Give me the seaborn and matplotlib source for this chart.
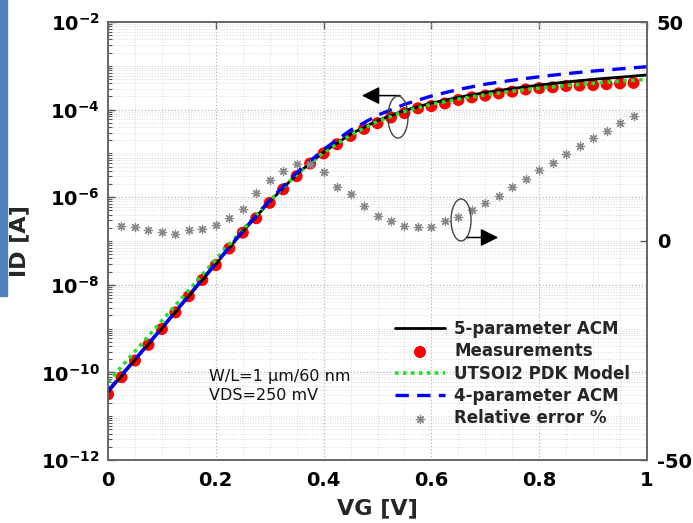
import numpy as np
import pandas as pd
import matplotlib
matplotlib.use("Agg")
import matplotlib.pyplot as plt
import seaborn as sns
from matplotlib.patches import Ellipse, Rectangle
from matplotlib.ticker import LogLocator, FixedLocator, NullFormatter, MultipleLocator

# ---------------- data ----------------
vg_meas = [round(0.025 * i, 3) for i in range(40)]          # 0 .. 0.975
log_id_meas = [-10.50, -10.11, -9.73, -9.37, -9.01, -8.63, -8.26, -7.89, -7.55, -7.17,
               -6.81, -6.48, -6.13, -5.82, -5.52, -5.23, -5.00, -4.79, -4.60, -4.44,
               -4.31, -4.18, -4.08, -3.97, -3.92, -3.86, -3.78, -3.72, -3.68, -3.63,
               -3.59, -3.54, -3.51, -3.49, -3.46, -3.45, -3.44, -3.42, -3.40, -3.39]

vg_model = [round(0.05 * i, 2) for i in range(21)]           # 0 .. 1
log_id_acm5 = [-10.45, -9.72, -9.00, -8.26, -7.53, -6.79, -6.10, -5.48, -4.97, -4.56,
               -4.25, -4.02, -3.85, -3.72, -3.61, -3.52, -3.44, -3.37, -3.31, -3.26, -3.21]
log_id_utsoi = [-10.22, -9.52, -8.82, -8.12, -7.42, -6.74, -6.08, -5.48, -4.98, -4.58,
                -4.27, -4.04, -3.88, -3.76, -3.66, -3.58, -3.51, -3.45, -3.40, -3.35, -3.31]
log_id_acm4 = [-10.42, -9.70, -8.98, -8.24, -7.51, -6.77, -6.07, -5.44, -4.91, -4.47,
               -4.13, -3.88, -3.69, -3.54, -3.42, -3.33, -3.25, -3.18, -3.12, -3.07, -3.02]

vg_err = [round(0.025 * i, 3) for i in range(1, 40)]         # 0.025 .. 0.975
rel_err = [3.5, 3.1, 2.5, 2.1, 1.6, 2.5, 2.7, 3.7, 5.2, 7.3,
           11.0, 13.9, 16.0, 17.5, 17.6, 15.8, 12.3, 10.7, 8.1, 5.7,
           4.6, 3.4, 3.2, 3.2, 4.6, 5.5, 7.1, 8.7, 10.3, 12.4,
           14.2, 16.1, 17.9, 19.9, 21.7, 23.5, 25.2, 26.9, 28.5]

x_ticks = [0, 0.2, 0.4, 0.6, 0.8, 1]
x_tick_labels = ["0", "0.2", "0.4", "0.6", "0.8", "1"]
y_ticks_exp = [-12, -10, -8, -6, -4, -2]
y2_ticks = [-50, 0, 50]

labels = ["5-parameter ACM", "Measurements", "UTSOI2 PDK Model",
          "4-parameter ACM", "Relative error %"]

# ---------------- frames ----------------
df_meas = pd.DataFrame({"VG": vg_meas, "ID": 10.0 ** np.array(log_id_meas)})
df_model = pd.DataFrame({"VG": vg_model,
                         "acm5": 10.0 ** np.array(log_id_acm5),
                         "utsoi": 10.0 ** np.array(log_id_utsoi),
                         "acm4": 10.0 ** np.array(log_id_acm4)})
df_err = pd.DataFrame({"VG": vg_err, "err": rel_err})

# ---------------- style ----------------
sns.set_theme(style="white")
plt.rcParams["font.family"] = ["DejaVu Sans"]
plt.rcParams["mathtext.default"] = "bf"

fig = plt.figure(figsize=(6.93, 5.23), dpi=100)
L, R, B, T = 108 / 693, 647 / 693, (523 - 460) / 523, (523 - 22) / 523
ax = fig.add_axes([L, B, R - L, T - B])
ax2 = ax.twinx()

sns.scatterplot(data=df_meas, x="VG", y="ID", ax=ax, color="#ff0000", s=75,
                edgecolor="none", linewidth=0, zorder=2, label=labels[1])
sns.lineplot(data=df_model, x="VG", y="acm5", ax=ax, color="black", lw=2.0,
             zorder=3, label=labels[0])
sns.lineplot(data=df_model, x="VG", y="utsoi", ax=ax, color="#22e022", lw=2.6,
             linestyle=(0, (1, 1.2)), zorder=4, label=labels[2])
sns.lineplot(data=df_model, x="VG", y="acm4", ax=ax, color="#0000ff", lw=2.4,
             linestyle=(0, (4, 2.5)), zorder=5, label=labels[3])
sns.scatterplot(data=df_err, x="VG", y="err", ax=ax2, color="#8a8a8a",
                marker=(8, 2, 0), s=36, linewidth=0.9, zorder=3, label=labels[4])

ax.set_yscale("log")
ax.set_xlim(0, 1)
ax.set_ylim(1e-12, 1e-2)
ax2.set_ylim(-50, 50)

# ticks
ax.xaxis.set_major_locator(FixedLocator(x_ticks))
ax.set_xticklabels(x_tick_labels)
ax.xaxis.set_minor_locator(MultipleLocator(0.05))
ax.yaxis.set_major_locator(FixedLocator([10.0 ** e for e in y_ticks_exp]))
ax.set_yticklabels([r"$10^{%d}$" % e for e in y_ticks_exp])
ax.yaxis.set_minor_locator(LogLocator(base=10, subs=np.arange(1, 10), numticks=30))
ax.yaxis.set_minor_formatter(NullFormatter())
ax2.set_yticks(y2_ticks)
ax2.set_yticklabels([str(v) for v in y2_ticks])

ax.tick_params(axis="both", which="major", direction="in", length=5, width=1,
               colors="#555555", labelcolor="black", labelsize=14, top=True, right=False)
ax.tick_params(axis="x", which="major", pad=8)
ax.tick_params(axis="y", which="major", pad=6)
ax.tick_params(axis="y", which="minor", direction="in", length=3, width=0.8,
               colors="#555555", right=False)
ax.tick_params(axis="x", which="minor", length=0)
ax2.tick_params(axis="y", which="major", direction="in", length=5, width=1,
                colors="#555555", labelcolor="black", labelsize=14, pad=7)
for a in (ax, ax2):
    for lab in a.get_xticklabels() + a.get_yticklabels():
        lab.set_fontweight("bold")

# grid
ax.grid(True, which="major", axis="both", linestyle=":", color="#b8b8b8", lw=0.9)
ax.grid(True, which="minor", axis="both", linestyle=":", color="#dadada", lw=0.7)
ax.set_axisbelow(True)

for a in (ax, ax2):
    for s in a.spines.values():
        s.set_color("#666666")
        s.set_linewidth(1.2)

ax.set_xlabel("VG [V]", fontsize=16, fontweight="bold", labelpad=6)
ax.set_ylabel("ID [A]", fontsize=16, fontweight="bold")
ax2.set_ylabel("")
ax.yaxis.set_label_coords((29 - 108) / 539, 0.5)

# legend
h1, l1 = ax.get_legend_handles_labels()
h2, l2 = ax2.get_legend_handles_labels()
hmap = dict(zip(l1 + l2, h1 + h2))
if ax.get_legend() is not None:
    ax.get_legend().remove()
if ax2.get_legend() is not None:
    ax2.get_legend().remove()
leg = ax2.legend([hmap[l] for l in labels], labels, loc="upper left",
                 bbox_to_anchor=((395 - 108) / 539, (460 - 320) / 438),
                 frameon=False, prop=dict(weight="bold", size=12),
                 handlelength=3.0, handletextpad=0.55, labelspacing=0.26,
                 borderpad=0, borderaxespad=0)

# annotation text
ax2.text((209 - 108) / 539, (460 - 369) / 438, "W/L=1 µm/60 nm\nVDS=250 mV",
         transform=ax.transAxes, fontsize=11.5, va="top", ha="left",
         linespacing=1.3, color="#111111")

# ellipses and arrows
ax2.add_patch(Ellipse((0.538, 0.783), 0.0371, 0.0959, transform=ax.transAxes,
                      fill=False, ec="#444444", lw=1.0, zorder=6))
ax2.add_patch(Ellipse((0.655, 0.548), 0.0371, 0.0959, transform=ax.transAxes,
                      fill=False, ec="#444444", lw=1.0, zorder=6))
ax2.annotate("", xy=(0.471, 0.832), xytext=(0.542, 0.832), xycoords="axes fraction",
             arrowprops=dict(arrowstyle="-|>,head_length=0.6,head_width=0.3",
                             color="black", lw=1.1, mutation_scale=18,
                             shrinkA=0, shrinkB=0))
ax2.annotate("", xy=(0.724, 0.508), xytext=(0.665, 0.508), xycoords="axes fraction",
             arrowprops=dict(arrowstyle="-|>,head_length=0.6,head_width=0.3",
                             color="black", lw=1.1, mutation_scale=18,
                             shrinkA=0, shrinkB=0))

# slide side bar
fig.patches.append(Rectangle((0, 1 - 296 / 523), 7 / 693, 296 / 523,
                             transform=fig.transFigure, color="#4f81bd", zorder=10))

fig.savefig("out.png", dpi=100)
